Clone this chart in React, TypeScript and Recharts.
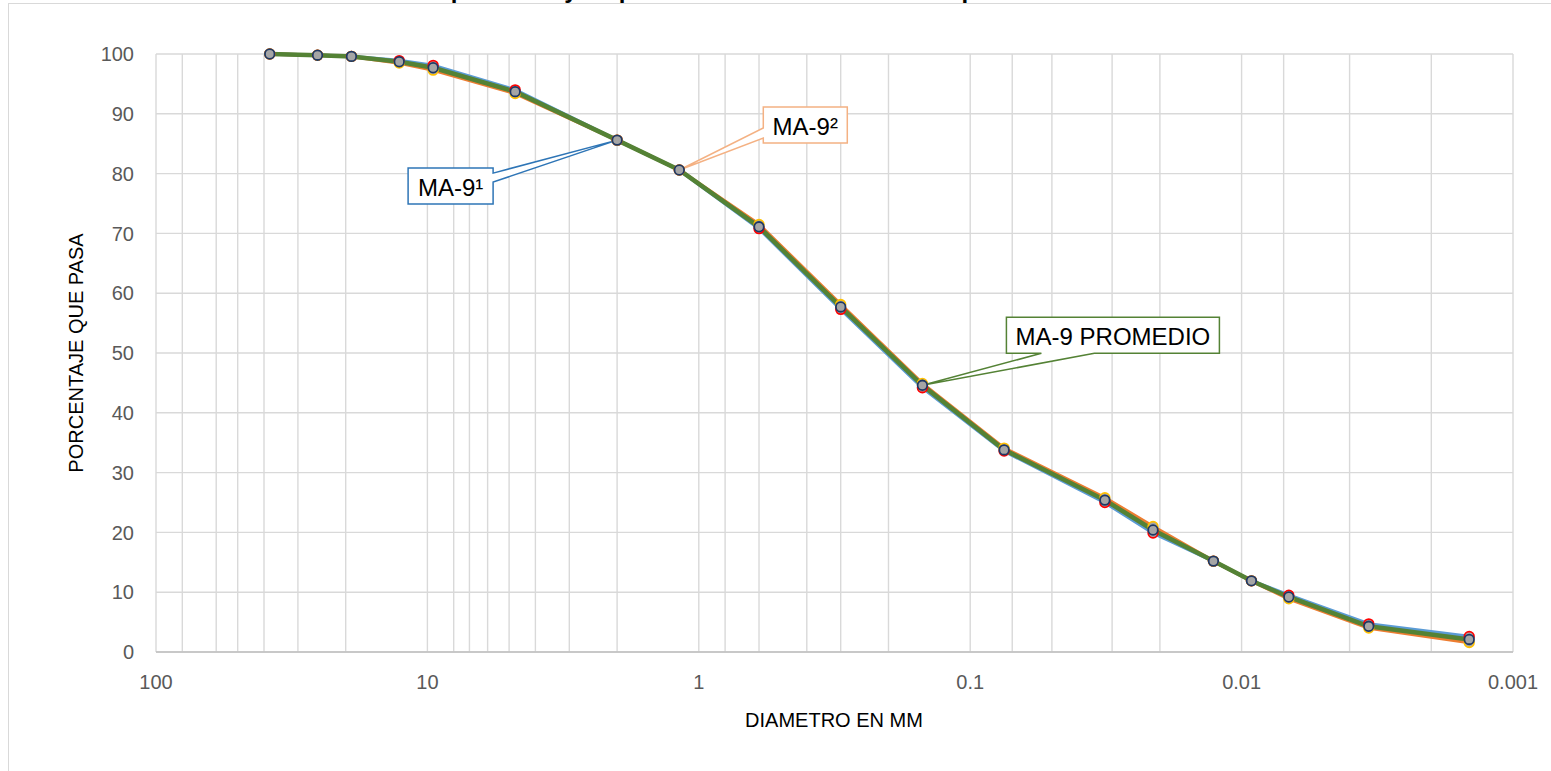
import { CartesianGrid, ComposedChart, Line, ReferenceDot, XAxis, YAxis } from 'recharts'

// diametro (mm) de cada punto, de la malla 1 1/2" al ultimo punto del hidrometro
const DIAMETROS = [38.1, 25.4, 19.05, 12.7, 9.525, 4.75, 2.0, 1.18, 0.6, 0.3, 0.15, 0.075, 0.0319, 0.0212, 0.0127, 0.0092, 0.0067, 0.0034, 0.00145]
const MA9_1 = [100, 99.8, 99.6, 98.9, 98.1, 94.0, 85.6, 80.6, 70.8, 57.3, 44.2, 33.6, 25.0, 19.9, 15.2, 11.9, 9.5, 4.7, 2.6]
const MA9_2 = [100, 99.8, 99.6, 98.5, 97.3, 93.4, 85.6, 80.6, 71.5, 58.1, 44.9, 34.1, 25.8, 21.0, 15.2, 11.9, 8.9, 4.0, 1.6]
const PROMEDIO = [100, 99.8, 99.6, 98.7, 97.7, 93.7, 85.6, 80.6, 71.1, 57.7, 44.6, 33.8, 25.4, 20.4, 15.2, 11.9, 9.2, 4.3, 2.1]

const X_TICKS = [100, 10, 1, 0.1, 0.01, 0.001]
const X_LABELS = ['100', '10', '1', '0.1', '0.01', '0.001']
const Y_TICKS = [0, 10, 20, 30, 40, 50, 60, 70, 80, 90, 100]
const DECADAS = [0.001, 0.01, 0.1, 1, 10]
const MULTIPLOS = [1, 2, 3, 4, 5, 6, 7, 8, 9]
const GRID_X = [...DECADAS.flatMap(d => MULTIPLOS.map(m => +(m * d).toPrecision(3))), 100]

const BLUE = '#5B9BD5'
const ORANGE = '#ED7D31'
const GREEN = '#548235'
const GRID = '#d9d9d9'
const FONT = '"Liberation Sans", Arial, sans-serif'

const data = DIAMETROS.map((d, i) => ({
  d,
  s1: MA9_1[i],
  s2: MA9_2[i],
  avg: PROMEDIO[i]
}))

type Box = { l: number, t: number, w: number, h: number }

function calloutPath (b: Box, side: 'right' | 'left' | 'bottom', a: number, c: number) {
  const r = b.l + b.w
  const bt = b.t + b.h
  if (side === 'right') return `M${b.l},${b.t} H${r} V${a} L0,0 L${r},${c} V${bt} H${b.l} Z`
  if (side === 'left') return `M${b.l},${b.t} H${r} V${bt} H${b.l} V${c} L0,0 L${b.l},${a} Z`
  return `M${b.l},${b.t} H${r} V${bt} H${c} L0,0 L${a},${bt} H${b.l} Z`
}

function makeCallout (text: string, color: string, b: Box, side: 'right' | 'left' | 'bottom', a: number, c: number) {
  return (props: any) => {
    const { cx, cy } = props
    if (cx == null || cy == null) return <g />
    return (
      <g transform={`translate(${cx},${cy})`}>
        <path d={calloutPath(b, side, a, c)} fill='#fff' stroke={color} strokeWidth={1.5} />
        <text
          x={b.l + b.w / 2}
          y={b.t + b.h / 2 + 1}
          textAnchor='middle'
          dominantBaseline='central'
          fontSize={24}
          fontFamily={FONT}
          fill='#000'
        >
          {text}
        </text>
      </g>
    )
  }
}

const callout1 = makeCallout('MA-9¹', '#2E75B6', { l: -209, t: 28, w: 85, h: 36 }, 'right', 33, 42)
const callout2 = makeCallout('MA-9²', '#F4B183', { l: 84, t: -63, w: 84, h: 36 }, 'left', -42, -32)
const callout3 = makeCallout('MA-9 PROMEDIO', GREEN, { l: 84, t: -68, w: 213, h: 36 }, 'bottom', 119, 172)

const markerDot = (stroke: string) => ({ r: 4.8, fill: '#a5a5a5', stroke, strokeWidth: 1.8 })

export default function App () {
  return (
    <div
      style={{
        position: 'absolute',
        left: 0,
        top: 0,
        width: 1551,
        height: 771,
        overflow: 'hidden',
        background: '#fff',
        fontFamily: FONT
      }}
    >
      <div
        style={{
          position: 'absolute',
          left: 8,
          top: 3,
          width: 1700,
          height: 900,
          border: `1.5px solid ${GRID}`
        }}
      />
      <div
        style={{
          position: 'absolute',
          left: 136,
          top: -22,
          fontSize: 24,
          lineHeight: '24px',
          fontWeight: 'bold',
          whiteSpace: 'nowrap',
          color: '#000'
        }}
      >
        Análisis hidrométricos comparativos y su promedio de la muestra MA-9 por sedimentación
      </div>
      <div style={{ position: 'absolute', left: 0, top: 0 }}>
        <ComposedChart
          width={1551}
          height={771}
          data={data}
          margin={{ top: 54, right: 38, bottom: 0, left: 0 }}
        >
          <XAxis
            xAxisId='grid'
            type='number'
            dataKey='d'
            scale='log'
            domain={[0.001, 100]}
            reversed
            ticks={GRID_X}
            hide
          />
          <CartesianGrid xAxisId='grid' stroke={GRID} strokeWidth={1.4} />
          <XAxis
            type='number'
            dataKey='d'
            scale='log'
            domain={[0.001, 100]}
            reversed
            ticks={X_TICKS}
            tickFormatter={(v: number) => X_LABELS[X_TICKS.indexOf(v)] ?? String(v)}
            height={119}
            tickSize={0}
            tickMargin={23}
            tick={{ fontSize: 20, fill: '#595959', fontFamily: FONT }}
            axisLine={{ stroke: '#bfbfbf', strokeWidth: 1.5 }}
            tickLine={false}
          />
          <YAxis
            type='number'
            domain={[0, 100]}
            ticks={Y_TICKS}
            width={156}
            tickSize={0}
            tickMargin={22}
            tick={{ fontSize: 20, fill: '#595959', fontFamily: FONT }}
            axisLine={false}
            tickLine={false}
          />
          <Line dataKey='s1' stroke={BLUE} strokeWidth={3.5} dot={false} activeDot={false} isAnimationActive={false} />
          <Line dataKey='s2' stroke={ORANGE} strokeWidth={3.5} dot={false} activeDot={false} isAnimationActive={false} />
          <Line dataKey='avg' stroke={GREEN} strokeWidth={4.5} dot={false} activeDot={false} isAnimationActive={false} />
          <ReferenceDot x={2.0} y={85.6} shape={callout1} />
          <ReferenceDot x={1.18} y={80.6} shape={callout2} />
          <ReferenceDot x={0.15} y={44.6} shape={callout3} />
          <Line dataKey='s1' stroke='none' dot={markerDot('#ff0000')} activeDot={false} isAnimationActive={false} />
          <Line dataKey='s2' stroke='none' dot={markerDot('#ffc000')} activeDot={false} isAnimationActive={false} />
          <Line dataKey='avg' stroke='none' dot={markerDot('#1f3864')} activeDot={false} isAnimationActive={false} />
        </ComposedChart>
      </div>
      <div
        style={{
          position: 'absolute',
          left: 634,
          top: 710,
          width: 400,
          textAlign: 'center',
          fontSize: 20,
          lineHeight: '20px',
          color: '#000'
        }}
      >
        DIAMETRO EN MM
      </div>
      <div
        style={{
          position: 'absolute',
          left: -124,
          top: 341,
          width: 400,
          height: 24,
          textAlign: 'center',
          fontSize: 20,
          lineHeight: '24px',
          color: '#000',
          transform: 'rotate(-90deg)'
        }}
      >
        PORCENTAJE QUE PASA
      </div>
    </div>
  )
}
